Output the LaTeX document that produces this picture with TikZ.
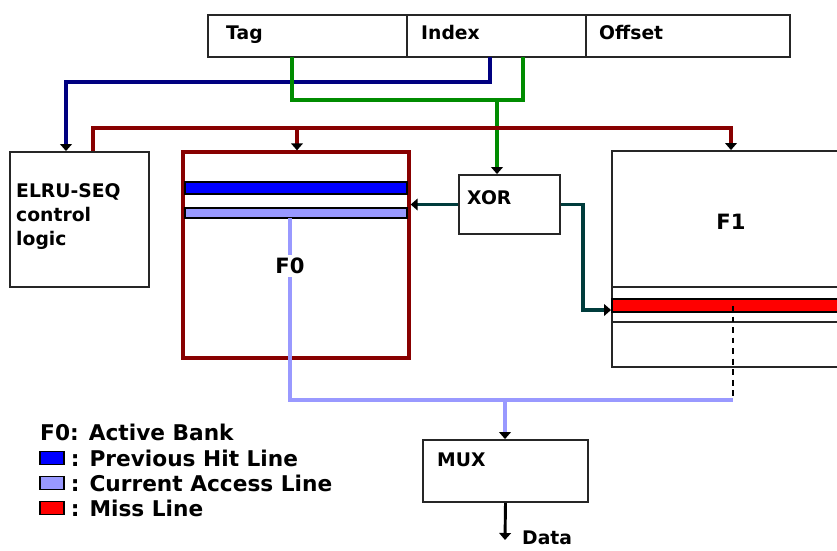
\documentclass[tikz,border=0pt]{standalone}
\usepackage{fontspec}
\setmainfont{DejaVu Sans}
\usetikzlibrary{arrows.meta, positioning, fit, calc}
\definecolor{navyline}{HTML}{000080}
\definecolor{greenline}{HTML}{008C00}
\definecolor{ctrlred}{HTML}{880000}
\definecolor{hitblue}{HTML}{0000FF}
\definecolor{accblue}{HTML}{9999FF}
\definecolor{missred}{HTML}{FF0000}
\definecolor{tealline}{HTML}{003C3C}

\tikzset{
    box/.style={draw=black!85, line width=1.6pt, inner sep=0pt},
    lbl/.style={font=\fontsize{16}{19}\selectfont\bfseries, anchor=base west, inner sep=0pt},
    banklbl/.style={font=\fontsize{18}{21}\selectfont\bfseries, inner sep=2pt},
    legtxt/.style={font=\fontsize{18.5}{22}\selectfont\bfseries, anchor=west, inner sep=0pt},
    legsq/.style={draw=black, line width=1.3pt, minimum width=0.72cm, minimum height=0.4cm, inner sep=0pt},
    wire/.style={line width=3pt},
    tip/.style={-{Triangle[length=6pt, width=10pt, color=black]}},
}

\begin{document}
\begin{tikzpicture}[x=0.03cm, y=-0.03cm]
    \useasboundingbox (0,0) rectangle (837,550);
    \clip (0,0) rectangle (837,550);

    % address fields
    \node[box, fit={(208,15) (407,57)}] (tag) {};
    \node[box, fit={(407,15) (586,57)}] (index) {};
    \node[box, fit={(586,15) (790,57)}] (offset) {};
    \node[lbl] (tagtxt) at (226,39) {Tag};
    \node[lbl] (indextxt) at (421,39) {Index};
    \node[lbl] (offsettxt) at (599,39) {Offset};

    % control logic
    \node[box, fit={(10,152) (149,287)}] (elru) {};
    \node[lbl] (elrua) at (16,197) {ELRU-SEQ};
    \node[lbl] (elrub) at (16,221) {control};
    \node[lbl] (elruc) at (16,245) {logic};

    % bank F0
    \node[draw=ctrlred, line width=2.8pt, inner sep=0pt, fit={(183,152) (409,358)}] (f0) {};
    \filldraw[fill=hitblue, draw=black, line width=0.9pt] (185,182) rectangle (407,194);
    \filldraw[fill=accblue, draw=black, line width=0.9pt] (185,208) rectangle (407,218);

    % bank F1
    \node[box, fit={(612,151) (870,367)}] (f1) {};
    \draw[black!85, line width=1.3pt] (612,287) -- (870,287);
    \filldraw[fill=missred, draw=black, line width=0.9pt] (612,299) rectangle (870,312);
    \draw[black!85, line width=1.3pt] (612,322) -- (870,322);
    \node[banklbl] (f1txt) at (731,222) {F1};

    % xor and mux
    \node[box, fit={(459,175) (560,234)}] (xor) {};
    \node[lbl] (xortxt) at (467,204) {XOR};
    \node[box, fit={(423,440) (588,502)}] (mux) {};
    \node[lbl] (muxtxt) at (437,466) {MUX};

    \coordinate (blueout) at (490,57);
    \coordinate (blueturn) at (66,82);
    \coordinate (tagout) at (292,57);
    \coordinate (idxout) at (523,57);
    \coordinate (grnL) at (292,100);
    \coordinate (grnM) at (497,100);
    \coordinate (ctlL) at (93,128);
    \coordinate (ctlM) at (297,128);
    \coordinate (ctlR) at (731,128);
    \coordinate (bend) at (583,310);
    \coordinate (acc) at (290,218);
    \coordinate (selL) at (290,400);
    \coordinate (selM) at (505,400);
    \coordinate (selR) at (733,400);
    \coordinate (miss) at (733,306);
    \coordinate (dataout) at (505,540);

    % index to control logic
    \draw[wire, navyline, tip] (blueout) |- (blueturn) -- (blueturn |- elru.north);

    % tag and index to xor
    \draw[wire, greenline] (tagout) -- (grnL) -- (grnL -| idxout) -- (idxout);
    \draw[wire, greenline, tip] (grnM) -- (grnM |- xor.north);

    % control to banks
    \draw[wire, ctrlred, tip] (ctlL |- elru.north) -- (ctlL) -| (ctlR |- f1.north);
    \draw[wire, ctrlred, tip] (ctlM) -- (ctlM |- f0.north);

    % xor outputs
    \draw[wire, tealline, tip] (xor.west) -- (xor.west -| f0.east);
    \draw[wire, tealline, tip] (xor.east) -| (bend) -- (bend -| f1.west);

    % selected lines to mux
    \draw[accblue, line width=3.5pt] (acc) -- (selL) -- (selR);
    \draw[accblue, line width=3.5pt, tip] (selM) -- (selM |- mux.north);
    \draw[line width=1.4pt, dash pattern=on 5pt off 4pt] (miss) -- (selR);
    \node[banklbl, fill=white, inner sep=3pt] (f0txt) at (290,266) {F0};

    \draw[black, line width=2.5pt, tip] (mux.south) -- (dataout);
    \node[lbl] (datatxt) at (522,544) {Data};

    % legend
    \node[legtxt] (legbank) at (40,432) {F0: Active Bank};
    \node[legsq, fill=hitblue] (keyhit) at (52,458) {};
    \node[legsq, fill=accblue] (keyacc) at (52,483) {};
    \node[legsq, fill=missred] (keymiss) at (52,508) {};
    \node[legtxt, right=5pt of keyhit] (leghit) {: Previous Hit Line};
    \node[legtxt, right=5pt of keyacc] (legacc) {: Current Access Line};
    \node[legtxt, right=5pt of keymiss] (legmiss) {: Miss Line};
\end{tikzpicture}
\end{document}
